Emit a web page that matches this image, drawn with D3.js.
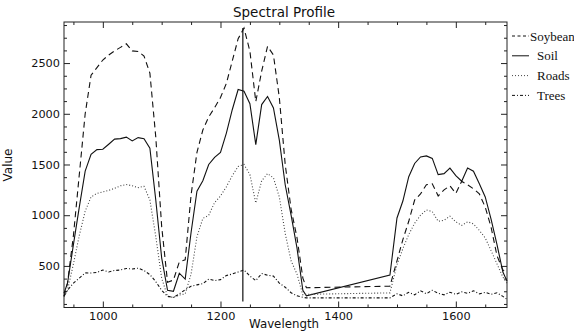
<!DOCTYPE html>
<html>
<head>
<meta charset="utf-8">
<script src="https://cdnjs.cloudflare.com/ajax/libs/d3/7.8.5/d3.min.js"></script>
<style>
  body { margin: 0; background: #fff; }
  .axis text { font-family: 'DejaVu Sans', sans-serif; font-size: 11.3px; fill: #111; }
  .axis line { stroke: #222; }
  .axis .domain { display: none; }
</style>
</head>
<body>
<script>

// wavelengths (nm); the water band 1346-1488 has no samples
var wavelengths = [934, 940, 950, 960, 970, 980, 990, 1000, 1010, 1020, 1030, 1040, 1050, 1060, 1070,
    1080, 1090, 1100, 1110, 1120, 1130, 1140, 1150, 1160, 1170, 1180, 1190, 1200, 1210, 1220, 1230,
    1240, 1250, 1260, 1270, 1280, 1290, 1300, 1310, 1320, 1330, 1340, 1346,
    1488, 1500, 1510, 1520, 1530, 1540, 1550, 1560, 1570, 1580, 1590, 1600, 1610, 1620, 1630, 1640,
    1650, 1660, 1670, 1680, 1687];

var soybean = [200, 330, 800, 1400, 2000, 2380, 2455, 2530, 2580, 2620, 2655, 2690, 2620, 2615, 2570,
    2400, 1770, 890, 340, 360, 540, 560, 1200, 1620, 1840, 1970, 2060, 2160, 2300, 2520, 2740,
    2845, 2617, 2120, 2420, 2665, 2580, 2160, 1500, 1060, 780, 380, 285,
    300, 550, 760, 940, 1150, 1210, 1300, 1310, 1190, 1250, 1290, 1215, 1335, 1300, 1260, 1210,
    1080, 880, 600, 460, 430];

var soil = [230, 330, 710, 1080, 1434, 1600, 1647, 1650, 1700, 1750, 1755, 1770, 1732, 1765, 1755,
    1660, 1150, 580, 260, 250, 428, 370, 830, 1237, 1340, 1500, 1570, 1620, 1810, 2040, 2239,
    2223, 2100, 1696, 2091, 2170, 2058, 1740, 1300, 1000, 678, 260, 205,
    410, 973, 1140, 1380, 1510, 1575, 1585, 1560, 1400, 1410, 1465, 1390, 1335, 1465, 1434, 1310,
    1180, 960, 710, 440, 350];

var roads = [200, 260, 520, 800, 1039, 1180, 1215, 1230, 1245, 1265, 1290, 1302, 1290, 1272, 1285,
    1150, 790, 380, 200, 190, 212, 225, 420, 789, 968, 1000, 1125, 1190, 1280, 1390, 1480,
    1500, 1400, 1120, 1340, 1410, 1368, 1180, 820, 550, 420, 215, 220,
    234, 513, 670, 810, 920, 1000, 1052, 1035, 940, 950, 990, 935, 900, 935, 915, 850,
    776, 650, 520, 390, 330];

var trees = [200, 260, 330, 380, 431, 430, 435, 460, 440, 455, 460, 475, 470, 478, 455,
    414, 345, 260, 200, 190, 224, 265, 300, 313, 325, 370, 355, 365, 405, 420, 440,
    460, 400, 355, 425, 408, 400, 330, 290, 235, 205, 190, 185,
    185, 225, 205, 240, 215, 255, 225, 260, 230, 215, 240, 220, 245, 230, 255, 225,
    240, 220, 235, 200, 170];

var seriesNames = ['Soybean', 'Soil', 'Roads', 'Trees'];
var seriesDash = ['6,4', null, '1,2', '3,2,1,2'];

var xMajor = [1000, 1200, 1400, 1600];
var xMinor = [950, 1050, 1100, 1150, 1250, 1300, 1350, 1450, 1500, 1550, 1650];
var yMajor = [500, 1000, 1500, 2000, 2500];
var yMinor = [125, 250, 375, 625, 750, 875, 1125, 1250, 1375, 1625, 1750, 1875,
    2125, 2250, 2375, 2625, 2750, 2875];

// selected band marker
var markerWl = 1238;
var markerRange = [150, 2845];

var margin = {top: 22, left: 64, right: 67, bottom: 24.5},
    width = 574 - margin.left - margin.right,
    height = 332 - margin.top - margin.bottom;

var svg = d3.select('body')
    .append('svg')
    .attr('width', 574)
    .attr('height', 332);

var board = svg.append('g')
    .attr('transform', 'translate(' + margin.left + ',' + margin.top + ')');

var x = d3.scaleLinear()
    .domain([934, 1687])
    .range([0, width]);

var y = d3.scaleLinear()
    .domain([90, 2905])
    .range([height, 0]);

// ticks point inward on all four sides
var addAxis = function(axisFn, major, minor, tx, ty, labels) {
    var g = board.append('g')
        .attr('class', 'axis')
        .attr('transform', 'translate(' + tx + ',' + ty + ')');
    var sc = (axisFn === d3.axisBottom || axisFn === d3.axisTop) ? x : y;
    g.append('g').call(axisFn(sc).tickValues(major).tickSizeInner(-6).tickSizeOuter(0)
        .tickPadding(4).tickFormat(labels ? d3.format('d') : ''));
    g.append('g').call(axisFn(sc).tickValues(minor).tickSizeInner(-3).tickSizeOuter(0)
        .tickFormat(''));
};

addAxis(d3.axisBottom, xMajor, xMinor, 0, height, true);
addAxis(d3.axisTop, xMajor, xMinor, 0, 0, false);
addAxis(d3.axisLeft, yMajor, yMinor, 0, 0, true);
addAxis(d3.axisRight, yMajor, yMinor, width, 0, false);

board.append('rect')
    .attr('width', width)
    .attr('height', height)
    .style('fill', 'none')
    .style('stroke', '#222')
    .style('stroke-width', 1);

var line = d3.line()
    .x(function(d) { return x(d.wl); })
    .y(function(d) { return y(d.v); });

[soybean, soil, roads, trees].forEach(function(vals, i) {
    var pts = wavelengths.map(function(wl, j) { return {wl: wl, v: vals[j]}; });
    board.append('path')
        .datum(pts)
        .attr('d', line)
        .style('fill', 'none')
        .style('stroke', i === 2 ? '#444' : '#111')
        .style('stroke-width', 1.1)
        .style('stroke-dasharray', seriesDash[i]);
});

board.append('line')
    .attr('x1', x(markerWl))
    .attr('x2', x(markerWl))
    .attr('y1', y(markerRange[0]))
    .attr('y2', y(markerRange[1]))
    .style('stroke', '#111')
    .style('stroke-width', 1.2);

// titles
svg.append('text')
    .attr('x', 284)
    .attr('y', 17)
    .attr('text-anchor', 'middle')
    .style('font-family', 'DejaVu Sans, sans-serif')
    .style('font-size', '13.5px')
    .style('fill', '#111')
    .text('Spectral Profile');

svg.append('text')
    .attr('x', 284)
    .attr('y', 328)
    .attr('text-anchor', 'middle')
    .style('font-family', 'DejaVu Sans, sans-serif')
    .style('font-size', '11.8px')
    .style('fill', '#111')
    .text('Wavelength');

svg.append('text')
    .attr('transform', 'translate(12,165) rotate(-90)')
    .attr('text-anchor', 'middle')
    .style('font-family', 'DejaVu Sans, sans-serif')
    .style('font-size', '12px')
    .style('fill', '#111')
    .text('Value');

// legend
var legend = svg.append('g')
    .attr('transform', 'translate(512,36)');

var legendX = [18, 25, 25, 25];

seriesNames.forEach(function(name, i) {
    var row = legend.append('g')
        .attr('transform', 'translate(0,' + (i * 19.8) + ')');
    row.append('line')
        .attr('x1', 0)
        .attr('x2', 17)
        .style('stroke', i === 2 ? '#444' : '#111')
        .style('stroke-width', 1)
        .style('stroke-dasharray', i === 0 ? '3,2.5' : seriesDash[i]);
    row.append('text')
        .attr('x', legendX[i])
        .attr('y', 4.5)
        .style('font-family', 'Liberation Serif, Times New Roman, serif')
        .style('font-size', '13px')
        .style('fill', '#111')
        .text(name);
});

</script>
</body>
</html>
